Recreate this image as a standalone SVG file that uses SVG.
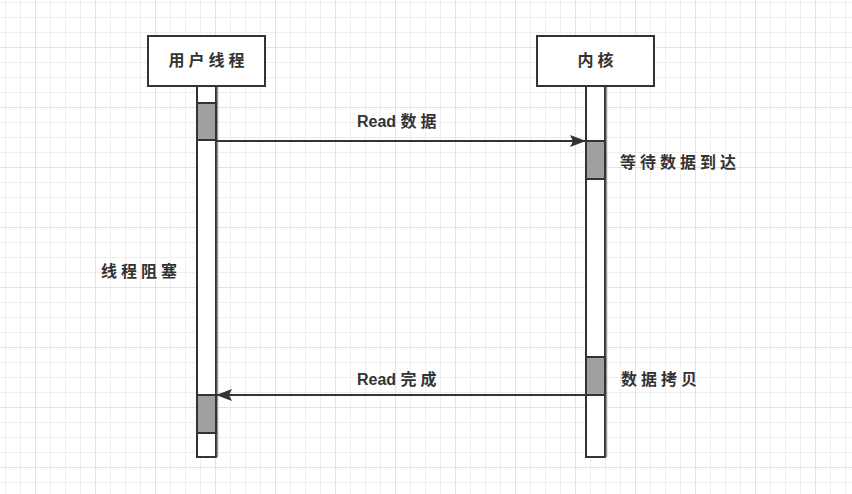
<svg xmlns="http://www.w3.org/2000/svg" width="852" height="494" viewBox="0 0 852 494">
  <defs>
    <pattern id="grid" patternUnits="userSpaceOnUse" x="35" y="47" width="60" height="60">
      <rect width="60" height="60" fill="#ffffff"/>
      <rect x="15" y="0" width="1" height="60" fill="#eeeeee"/>
      <rect x="30" y="0" width="1" height="60" fill="#eeeeee"/>
      <rect x="45" y="0" width="1" height="60" fill="#eeeeee"/>
      <rect x="0" y="15" width="60" height="1" fill="#eeeeee"/>
      <rect x="0" y="30" width="60" height="1" fill="#eeeeee"/>
      <rect x="0" y="45" width="60" height="1" fill="#eeeeee"/>
      <rect x="0" y="0" width="1" height="60" fill="#e2e2e2"/>
      <rect x="0" y="0" width="60" height="1" fill="#e2e2e2"/>
    </pattern>
    <marker id="arrow" viewBox="0 0 16 12" refX="15" refY="6" markerWidth="16" markerHeight="12" markerUnits="userSpaceOnUse" orient="auto">
      <path d="M0,0 L16,6 L0,12 L3,6 Z" fill="#333333"/>
    </marker>
  </defs>
  <style>
    .box { fill: #ffffff; stroke: #333333; stroke-width: 2; }
    .bar { fill: #ffffff; stroke: #333333; stroke-width: 2; }
    .act { fill: #a0a0a0; stroke: #333333; stroke-width: 2; }
    .shadow { stroke: #999999; stroke-width: 1.5; }
    .msg { stroke: #333333; stroke-width: 2; fill: none; marker-end: url(#arrow); }
    text { font-family: "Liberation Sans", "Noto Sans CJK SC", sans-serif; font-size: 16px; font-weight: bold; fill: #333333; }
    .cjk { letter-spacing: 4px; }
  </style>

  <rect x="0" y="0" width="852" height="494" fill="url(#grid)"/>

  <!-- user thread lifeline -->
  <g id="user-thread">
    <rect class="box" x="148" y="36" width="117" height="50"/>
    <text class="cjk" x="208.5" y="66" text-anchor="middle">用户线程</text>
    <rect class="bar" x="197" y="86" width="19" height="371"/>
    <line class="shadow" x1="217.5" y1="87" x2="217.5" y2="457"/>
    <rect class="act" x="197" y="103" width="19" height="37"/>
    <rect class="act" x="197" y="395" width="19" height="38"/>
  </g>

  <!-- kernel lifeline -->
  <g id="kernel">
    <rect class="box" x="537" y="36" width="117" height="50"/>
    <text class="cjk" x="597.5" y="66" text-anchor="middle">内核</text>
    <rect class="bar" x="586" y="86" width="19" height="371"/>
    <line class="shadow" x1="606.5" y1="87" x2="606.5" y2="457"/>
    <rect class="act" x="586" y="141" width="19" height="38"/>
    <rect class="act" x="586" y="357" width="19" height="38"/>
  </g>

  <!-- notes -->
  <g id="note-wait"><text class="cjk" x="620" y="168">等待数据到达</text></g>
  <g id="note-block"><text class="cjk" x="101" y="277">线程阻塞</text></g>
  <g id="note-copy"><text class="cjk" x="621" y="385">数据拷贝</text></g>

  <!-- messages -->
  <g id="connectors">
    <line class="msg" x1="216" y1="141" x2="585" y2="141"/>
    <line class="msg" x1="586" y1="395" x2="217" y2="395"/>
    <text x="357" y="127">Read <tspan class="cjk">数据</tspan></text>
    <text x="357" y="385">Read <tspan class="cjk">完成</tspan></text>
  </g>
</svg>
